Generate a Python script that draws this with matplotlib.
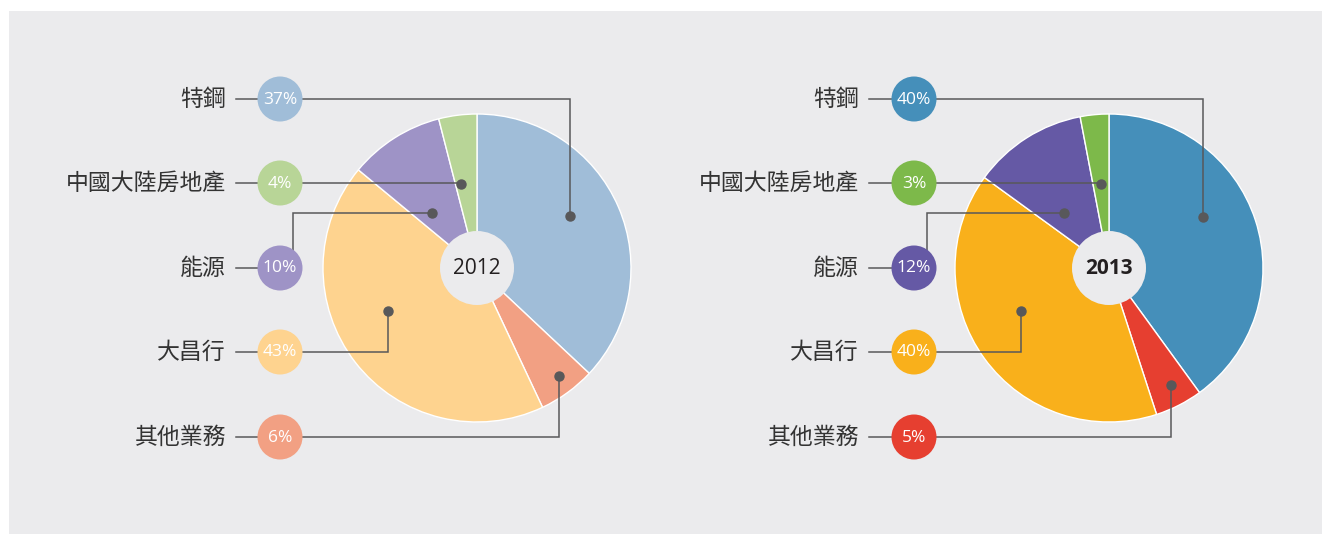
import matplotlib
matplotlib.use('Agg')
import matplotlib.pyplot as plt
from matplotlib.patches import Circle, Rectangle
import numpy as np

plt.rcParams['font.family'] = ['Noto Sans CJK TC', 'DejaVu Sans']

# data (clockwise from 12 o'clock)
categories = ['特鋼', '其他業務', '大昌行', '能源', '中國大陸房地產']
share_2012 = [37, 6, 43, 10, 4]
share_2013 = [40, 5, 40, 12, 3]
years = ['2012', '2013']

colors_2012 = ['#a0bdd8', '#f2a083', '#fed38f', '#9e93c6', '#b8d597']
colors_2013 = ['#458fba', '#e63f30', '#f9b01b', '#6559a5', '#7db94a']

# legend rows top->bottom (index into categories)
row_order = [0, 4, 3, 2, 1]

BG = '#ebebed'
LINE = '#58585a'
W, H = 1322, 534

fig = plt.figure(figsize=(W / 100, H / 100), dpi=100)
ax = fig.add_axes([0, 0, 1, 1])


def py(y):
    return H - y


# pixel layout for each panel
panels = [
    dict(vals=share_2012, cols=colors_2012, cx=477, cy=268, label_x=226, circ_x=280,
         bold=False,
         # dot placement within each wedge: (fraction along wedge, radius fraction)
         dots=[(0.456, 0.69), (0.44, 0.88), (0.578, 0.64), (0.31, 0.46), (0.25, 0.555)]),
    dict(vals=share_2013, cols=colors_2013, cx=1109, cy=268, label_x=859, circ_x=914,
         bold=True,
         dots=[(0.427, 0.695), (0.45, 0.86), (0.57, 0.635), (0.34, 0.46), (0.50, 0.548)]),
]
R = 154
HOLE = 37
row_y = [99, 183, 268, 352, 437]
route = ['hv', 'hv', 'vh', 'hv', 'hv']  # per row

ax.add_patch(Rectangle((9, 0), W - 9, H - 11, facecolor=BG, edgecolor='none', zorder=0))

for yi, p in enumerate(panels):
    vals = p['vals']
    cx, cy = p['cx'], py(p['cy'])
    ax.pie(vals, colors=p['cols'], startangle=90, counterclock=False,
           center=(cx, cy), radius=R,
           wedgeprops=dict(edgecolor='white', linewidth=1.0, zorder=2))
    ax.add_patch(Circle((cx, cy), HOLE, facecolor=BG, edgecolor='none', zorder=3))
    ax.text(cx, cy, years[yi], ha='center', va='center', fontsize=15,
            fontweight='bold' if p['bold'] else 'normal', color='#231f20',
            family=['Open Sans', 'DejaVu Sans'], zorder=4)

    # wedge angles
    total = float(sum(vals))
    starts = 90 - 360 * np.concatenate([[0], np.cumsum(vals)[:-1]]) / total
    spans = 360 * np.array(vals) / total

    for r, ci in enumerate(row_order):
        y = py(row_y[r])
        col = p['cols'][ci]
        ax.text(p['label_x'], y, categories[ci], ha='right', va='center',
                fontsize=16.5, color='#333333', zorder=4)
        ax.plot([p['label_x'] + 10, p['circ_x']], [y, y], color=LINE, lw=1.1, zorder=3)
        ax.add_patch(Circle((p['circ_x'], y), 22.5, facecolor=col, edgecolor='none', zorder=5))
        ax.text(p['circ_x'], y - 0.5, f'{vals[ci]}%', ha='center', va='center',
                fontsize=12.5, color='white', family=['Open Sans', 'DejaVu Sans'], zorder=6)

        frac, rf = p['dots'][ci]
        ang = np.deg2rad(starts[ci] - frac * spans[ci])
        dx = cx + rf * R * np.cos(ang)
        dy = cy + rf * R * np.sin(ang)
        if route[r] == 'hv':
            xs = [p['circ_x'], dx, dx]
            ys = [y, y, dy]
        else:
            vx = p['circ_x'] + 12.5
            xs = [vx, vx, dx]
            ys = [y, dy, dy]
        ax.plot(xs, ys, color=LINE, lw=1.1, zorder=3, solid_joinstyle='miter')
        ax.plot([dx], [dy], 'o', color=LINE, ms=6.5, zorder=4)

ax.set_xlim(0, W)
ax.set_ylim(0, H)
ax.set_aspect('auto')
ax.axis('off')
fig.patch.set_facecolor('white')
fig.savefig('out.png', dpi=100, facecolor='white')
